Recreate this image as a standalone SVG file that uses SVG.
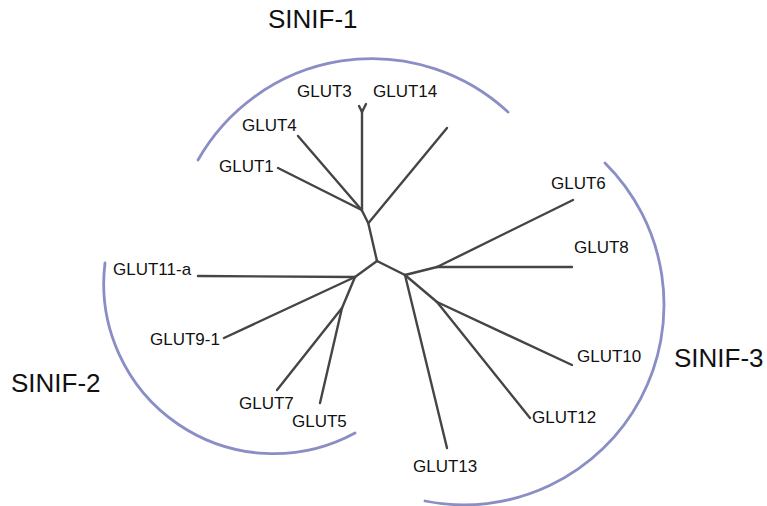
<svg xmlns="http://www.w3.org/2000/svg" width="767" height="506" viewBox="0 0 767 506">
<style>
.br{fill:none;stroke:#454545;stroke-width:2.4;stroke-linecap:round;stroke-linejoin:round}
.arc{fill:none;stroke:#8a8ec4;stroke-width:2.8;stroke-linecap:round}
.lb{font-family:"Liberation Sans",Arial,sans-serif;font-size:17px;fill:#111}
.grp{font-family:"Liberation Sans",Arial,sans-serif;font-size:26px;fill:#111}
</style>
<rect width="767" height="506" fill="#ffffff"/>
<g id="arcs">
<path id="arc-sinif1" class="arc" d="M198,160 A200,200 0 0 1 508,112"/>
<path id="arc-sinif2" class="arc" d="M105,263 A170,170 0 0 0 355,433"/>
<path id="arc-sinif3" class="arc" d="M605,163 A200,200 0 0 1 425,501"/>
</g>
<g id="connectors">
<path class="br" d="M361.7,210 L368.3,223.3 L377,261"/>
<path class="br" d="M361.7,210 L278,168"/>
<path class="br" d="M361.7,210 L298,136"/>
<path class="br" d="M362,210 L362,110"/>
<path class="br" d="M359,106 L362,112 L366,104"/>
<path class="br" d="M368.3,223.3 L447,128"/>
<path class="br" d="M377,261 L355,277"/>
<path class="br" d="M355,277 L198,276"/>
<path class="br" d="M355,277 L224,338"/>
<path class="br" d="M355,277 L342,308"/>
<path class="br" d="M342,308 L277,390"/>
<path class="br" d="M342,308 L320,403"/>
<path class="br" d="M377,261 L405,275"/>
<path class="br" d="M405,275 L437,267"/>
<path class="br" d="M437,267 L573,200"/>
<path class="br" d="M437,267 L572,267"/>
<path class="br" d="M405,275 L447,448"/>
<path class="br" d="M405,275 L437,302"/>
<path class="br" d="M437,302 L572,365"/>
<path class="br" d="M437,302 L530,418"/>
</g>
<g id="GLUT3"><text class="lb" x="297" y="97">GLUT3</text></g>
<g id="GLUT14"><text class="lb" x="373" y="97">GLUT14</text></g>
<g id="GLUT4"><text class="lb" x="242" y="131">GLUT4</text></g>
<g id="GLUT1"><text class="lb" x="219" y="172">GLUT1</text></g>
<g id="GLUT11-a"><text class="lb" x="113" y="275">GLUT11-a</text></g>
<g id="GLUT9-1"><text class="lb" x="150" y="345">GLUT9-1</text></g>
<g id="GLUT7"><text class="lb" x="239" y="409">GLUT7</text></g>
<g id="GLUT5"><text class="lb" x="292" y="427">GLUT5</text></g>
<g id="GLUT6"><text class="lb" x="551" y="189">GLUT6</text></g>
<g id="GLUT8"><text class="lb" x="574" y="253">GLUT8</text></g>
<g id="GLUT10"><text class="lb" x="577" y="362">GLUT10</text></g>
<g id="GLUT12"><text class="lb" x="532" y="423">GLUT12</text></g>
<g id="GLUT13"><text class="lb" x="413" y="472">GLUT13</text></g>
<g id="SINIF-1"><text class="grp" x="268" y="28">SINIF-1</text></g>
<g id="SINIF-2"><text class="grp" x="11" y="392">SINIF-2</text></g>
<g id="SINIF-3"><text class="grp" x="674" y="367">SINIF-3</text></g>
</svg>
